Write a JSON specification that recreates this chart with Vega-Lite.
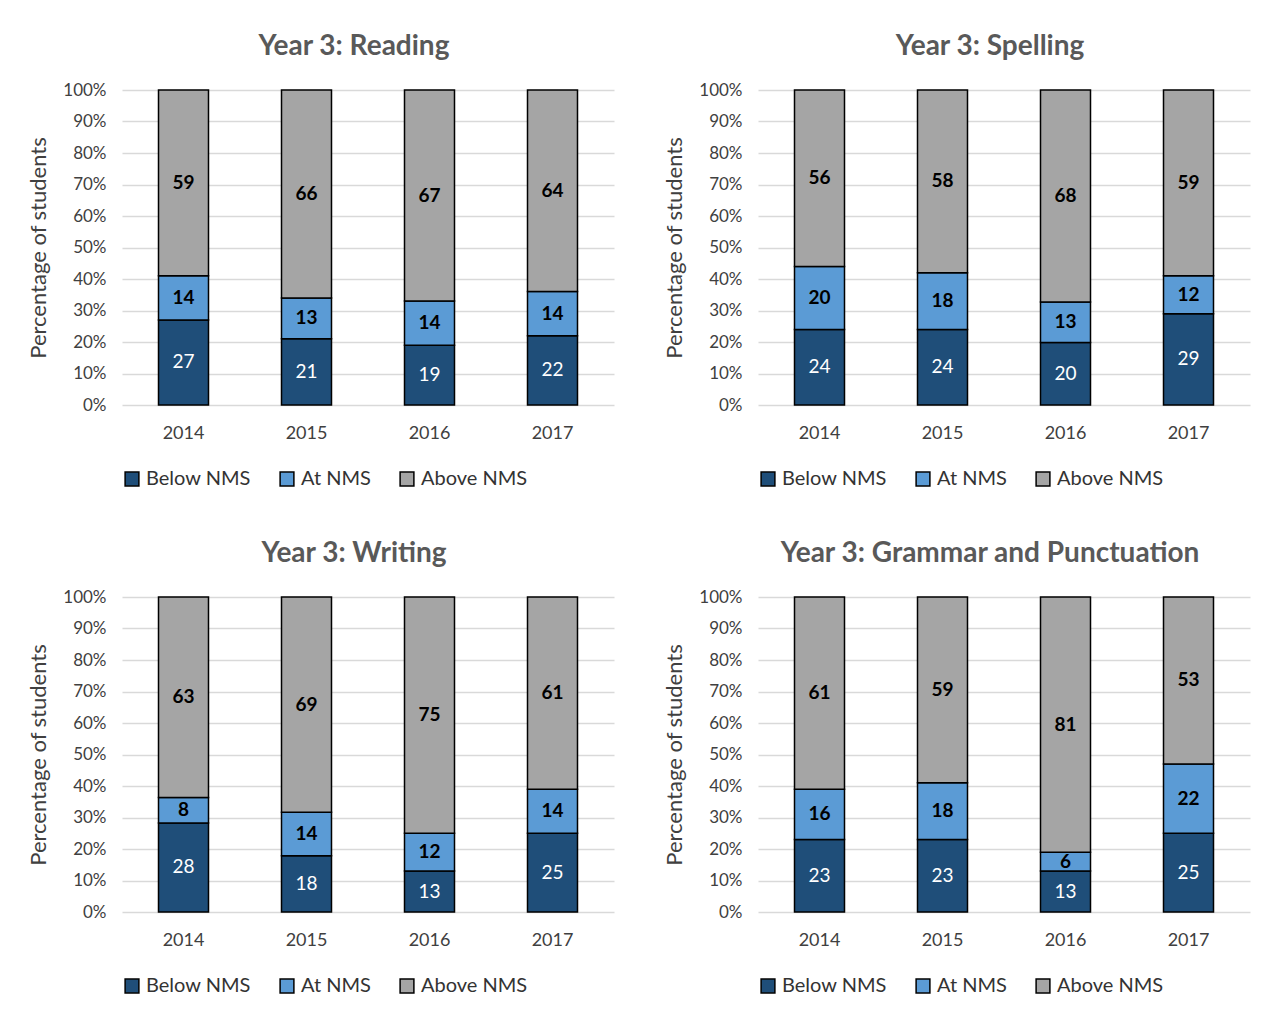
{
  "$schema": "https://vega.github.io/schema/vega-lite/v6.json",
  "background": "white",
  "padding": {"left": 27, "top": 33, "right": 10, "bottom": 5},
  "datasets": {
    "naplan": [
      {"panel": "Reading", "year": "2014", "level": "Below NMS", "value": 27},
      {"panel": "Reading", "year": "2014", "level": "At NMS", "value": 14},
      {"panel": "Reading", "year": "2014", "level": "Above NMS", "value": 59},
      {"panel": "Reading", "year": "2015", "level": "Below NMS", "value": 21},
      {"panel": "Reading", "year": "2015", "level": "At NMS", "value": 13},
      {"panel": "Reading", "year": "2015", "level": "Above NMS", "value": 66},
      {"panel": "Reading", "year": "2016", "level": "Below NMS", "value": 19},
      {"panel": "Reading", "year": "2016", "level": "At NMS", "value": 14},
      {"panel": "Reading", "year": "2016", "level": "Above NMS", "value": 67},
      {"panel": "Reading", "year": "2017", "level": "Below NMS", "value": 22},
      {"panel": "Reading", "year": "2017", "level": "At NMS", "value": 14},
      {"panel": "Reading", "year": "2017", "level": "Above NMS", "value": 64},
      {"panel": "Spelling", "year": "2014", "level": "Below NMS", "value": 24},
      {"panel": "Spelling", "year": "2014", "level": "At NMS", "value": 20},
      {"panel": "Spelling", "year": "2014", "level": "Above NMS", "value": 56},
      {"panel": "Spelling", "year": "2015", "level": "Below NMS", "value": 24},
      {"panel": "Spelling", "year": "2015", "level": "At NMS", "value": 18},
      {"panel": "Spelling", "year": "2015", "level": "Above NMS", "value": 58},
      {"panel": "Spelling", "year": "2016", "level": "Below NMS", "value": 20},
      {"panel": "Spelling", "year": "2016", "level": "At NMS", "value": 13},
      {"panel": "Spelling", "year": "2016", "level": "Above NMS", "value": 68},
      {"panel": "Spelling", "year": "2017", "level": "Below NMS", "value": 29},
      {"panel": "Spelling", "year": "2017", "level": "At NMS", "value": 12},
      {"panel": "Spelling", "year": "2017", "level": "Above NMS", "value": 59},
      {"panel": "Writing", "year": "2014", "level": "Below NMS", "value": 28},
      {"panel": "Writing", "year": "2014", "level": "At NMS", "value": 8},
      {"panel": "Writing", "year": "2014", "level": "Above NMS", "value": 63},
      {"panel": "Writing", "year": "2015", "level": "Below NMS", "value": 18},
      {"panel": "Writing", "year": "2015", "level": "At NMS", "value": 14},
      {"panel": "Writing", "year": "2015", "level": "Above NMS", "value": 69},
      {"panel": "Writing", "year": "2016", "level": "Below NMS", "value": 13},
      {"panel": "Writing", "year": "2016", "level": "At NMS", "value": 12},
      {"panel": "Writing", "year": "2016", "level": "Above NMS", "value": 75},
      {"panel": "Writing", "year": "2017", "level": "Below NMS", "value": 25},
      {"panel": "Writing", "year": "2017", "level": "At NMS", "value": 14},
      {"panel": "Writing", "year": "2017", "level": "Above NMS", "value": 61},
      {"panel": "Grammar", "year": "2014", "level": "Below NMS", "value": 23},
      {"panel": "Grammar", "year": "2014", "level": "At NMS", "value": 16},
      {"panel": "Grammar", "year": "2014", "level": "Above NMS", "value": 61},
      {"panel": "Grammar", "year": "2015", "level": "Below NMS", "value": 23},
      {"panel": "Grammar", "year": "2015", "level": "At NMS", "value": 18},
      {"panel": "Grammar", "year": "2015", "level": "Above NMS", "value": 59},
      {"panel": "Grammar", "year": "2016", "level": "Below NMS", "value": 13},
      {"panel": "Grammar", "year": "2016", "level": "At NMS", "value": 6},
      {"panel": "Grammar", "year": "2016", "level": "Above NMS", "value": 81},
      {"panel": "Grammar", "year": "2017", "level": "Below NMS", "value": 25},
      {"panel": "Grammar", "year": "2017", "level": "At NMS", "value": 22},
      {"panel": "Grammar", "year": "2017", "level": "Above NMS", "value": 53}
    ]
  },
  "data": {"name": "naplan"},
  "columns": 2,
  "spacing": {"row": 51, "column": 49},
  "resolve": {"legend": {"color": "independent"}},
  "concat": [
    {
      "title": "Year 3: Reading",
      "width": 492, "height": 315,
      "transform": [{"filter": "datum.panel === 'Reading'"}],
      "encoding": {
        "x": {"field": "year", "type": "ordinal", "title": null, "scale": {"paddingInner": 0, "paddingOuter": 0}},
        "y": {"field": "value", "type": "quantitative", "stack": "normalize", "title": "Percentage of students", "axis": {"format": ".0%", "values": [0,0.1,0.2,0.3,0.4,0.5,0.6,0.7,0.8,0.9,1]}},
        "order": {"field": "level", "sort": "descending"}
      },
      "layer": [
        {"mark": {"type": "bar", "size": 50, "stroke": "black", "strokeWidth": 1.5},
         "encoding": {"color": {"field": "level", "type": "nominal", "title": null, "scale": {"domain": ["Below NMS", "At NMS", "Above NMS"], "range": ["#1f4e79", "#5b9bd5", "#a5a5a5"]}}}},
        {"mark": {"type": "text", "fontSize": 19, "baseline": "middle"},
         "encoding": {"y": {"field": "value", "type": "quantitative", "stack": "normalize", "bandPosition": 0.5, "axis": {"format": ".0%", "values": [0,0.1,0.2,0.3,0.4,0.5,0.6,0.7,0.8,0.9,1]}, "title": "Percentage of students"}, "text": {"field": "value"},
           "color": {"condition": {"test": "datum.level === 'Below NMS'", "value": "white"}, "value": "transparent"}}},
        {"mark": {"type": "text", "fontSize": 19, "fontWeight": "bold", "baseline": "middle"},
         "encoding": {"y": {"field": "value", "type": "quantitative", "stack": "normalize", "bandPosition": 0.5, "axis": {"format": ".0%", "values": [0,0.1,0.2,0.3,0.4,0.5,0.6,0.7,0.8,0.9,1]}, "title": "Percentage of students"}, "text": {"field": "value"},
           "color": {"condition": {"test": "datum.level !== 'Below NMS'", "value": "black"}, "value": "transparent"}}}
      ]
    },
    {
      "title": "Year 3: Spelling",
      "width": 492, "height": 315,
      "transform": [{"filter": "datum.panel === 'Spelling'"}],
      "encoding": {
        "x": {"field": "year", "type": "ordinal", "title": null, "scale": {"paddingInner": 0, "paddingOuter": 0}},
        "y": {"field": "value", "type": "quantitative", "stack": "normalize", "title": "Percentage of students", "axis": {"format": ".0%", "values": [0,0.1,0.2,0.3,0.4,0.5,0.6,0.7,0.8,0.9,1]}},
        "order": {"field": "level", "sort": "descending"}
      },
      "layer": [
        {"mark": {"type": "bar", "size": 50, "stroke": "black", "strokeWidth": 1.5},
         "encoding": {"color": {"field": "level", "type": "nominal", "title": null, "scale": {"domain": ["Below NMS", "At NMS", "Above NMS"], "range": ["#1f4e79", "#5b9bd5", "#a5a5a5"]}}}},
        {"mark": {"type": "text", "fontSize": 19, "baseline": "middle"},
         "encoding": {"y": {"field": "value", "type": "quantitative", "stack": "normalize", "bandPosition": 0.5, "axis": {"format": ".0%", "values": [0,0.1,0.2,0.3,0.4,0.5,0.6,0.7,0.8,0.9,1]}, "title": "Percentage of students"}, "text": {"field": "value"},
           "color": {"condition": {"test": "datum.level === 'Below NMS'", "value": "white"}, "value": "transparent"}}},
        {"mark": {"type": "text", "fontSize": 19, "fontWeight": "bold", "baseline": "middle"},
         "encoding": {"y": {"field": "value", "type": "quantitative", "stack": "normalize", "bandPosition": 0.5, "axis": {"format": ".0%", "values": [0,0.1,0.2,0.3,0.4,0.5,0.6,0.7,0.8,0.9,1]}, "title": "Percentage of students"}, "text": {"field": "value"},
           "color": {"condition": {"test": "datum.level !== 'Below NMS'", "value": "black"}, "value": "transparent"}}}
      ]
    },
    {
      "title": "Year 3: Writing",
      "width": 492, "height": 315,
      "transform": [{"filter": "datum.panel === 'Writing'"}],
      "encoding": {
        "x": {"field": "year", "type": "ordinal", "title": null, "scale": {"paddingInner": 0, "paddingOuter": 0}},
        "y": {"field": "value", "type": "quantitative", "stack": "normalize", "title": "Percentage of students", "axis": {"format": ".0%", "values": [0,0.1,0.2,0.3,0.4,0.5,0.6,0.7,0.8,0.9,1]}},
        "order": {"field": "level", "sort": "descending"}
      },
      "layer": [
        {"mark": {"type": "bar", "size": 50, "stroke": "black", "strokeWidth": 1.5},
         "encoding": {"color": {"field": "level", "type": "nominal", "title": null, "scale": {"domain": ["Below NMS", "At NMS", "Above NMS"], "range": ["#1f4e79", "#5b9bd5", "#a5a5a5"]}}}},
        {"mark": {"type": "text", "fontSize": 19, "baseline": "middle"},
         "encoding": {"y": {"field": "value", "type": "quantitative", "stack": "normalize", "bandPosition": 0.5, "axis": {"format": ".0%", "values": [0,0.1,0.2,0.3,0.4,0.5,0.6,0.7,0.8,0.9,1]}, "title": "Percentage of students"}, "text": {"field": "value"},
           "color": {"condition": {"test": "datum.level === 'Below NMS'", "value": "white"}, "value": "transparent"}}},
        {"mark": {"type": "text", "fontSize": 19, "fontWeight": "bold", "baseline": "middle"},
         "encoding": {"y": {"field": "value", "type": "quantitative", "stack": "normalize", "bandPosition": 0.5, "axis": {"format": ".0%", "values": [0,0.1,0.2,0.3,0.4,0.5,0.6,0.7,0.8,0.9,1]}, "title": "Percentage of students"}, "text": {"field": "value"},
           "color": {"condition": {"test": "datum.level !== 'Below NMS'", "value": "black"}, "value": "transparent"}}}
      ]
    },
    {
      "title": "Year 3: Grammar and Punctuation",
      "width": 492, "height": 315,
      "transform": [{"filter": "datum.panel === 'Grammar'"}],
      "encoding": {
        "x": {"field": "year", "type": "ordinal", "title": null, "scale": {"paddingInner": 0, "paddingOuter": 0}},
        "y": {"field": "value", "type": "quantitative", "stack": "normalize", "title": "Percentage of students", "axis": {"format": ".0%", "values": [0,0.1,0.2,0.3,0.4,0.5,0.6,0.7,0.8,0.9,1]}},
        "order": {"field": "level", "sort": "descending"}
      },
      "layer": [
        {"mark": {"type": "bar", "size": 50, "stroke": "black", "strokeWidth": 1.5},
         "encoding": {"color": {"field": "level", "type": "nominal", "title": null, "scale": {"domain": ["Below NMS", "At NMS", "Above NMS"], "range": ["#1f4e79", "#5b9bd5", "#a5a5a5"]}}}},
        {"mark": {"type": "text", "fontSize": 19, "baseline": "middle"},
         "encoding": {"y": {"field": "value", "type": "quantitative", "stack": "normalize", "bandPosition": 0.5, "axis": {"format": ".0%", "values": [0,0.1,0.2,0.3,0.4,0.5,0.6,0.7,0.8,0.9,1]}, "title": "Percentage of students"}, "text": {"field": "value"},
           "color": {"condition": {"test": "datum.level === 'Below NMS'", "value": "white"}, "value": "transparent"}}},
        {"mark": {"type": "text", "fontSize": 19, "fontWeight": "bold", "baseline": "middle"},
         "encoding": {"y": {"field": "value", "type": "quantitative", "stack": "normalize", "bandPosition": 0.5, "axis": {"format": ".0%", "values": [0,0.1,0.2,0.3,0.4,0.5,0.6,0.7,0.8,0.9,1]}, "title": "Percentage of students"}, "text": {"field": "value"},
           "color": {"condition": {"test": "datum.level !== 'Below NMS'", "value": "black"}, "value": "transparent"}}}
      ]
    }
  ],
  "config": {
    "font": "Lato",
    "view": {"stroke": null},
    "title": {"fontSize": 28, "fontWeight": "bold", "color": "#595959", "font": "Lato", "offset": 20, "dx": -14},
    "axis": {"labelFont": "Lato", "titleFont": "Lato", "labelColor": "#404040", "titleColor": "#404040", "ticks": false, "domain": false},
    "axisY": {"labelFontSize": 17, "titleFontSize": 22, "titleFontWeight": "normal", "labelPadding": 16, "titlePadding": 12, "grid": true, "gridColor": "#d9d9d9", "gridWidth": 1.5},
    "axisX": {"labelFontSize": 18, "labelAngle": 0, "labelPadding": 19, "grid": false},
    "legend": {"orient": "bottom", "direction": "horizontal", "labelFontSize": 20, "labelFont": "Lato", "labelColor": "#333333", "symbolType": "square", "symbolSize": 190, "symbolStrokeColor": "black", "symbolStrokeWidth": 1.5, "symbolOpacity": 1, "columnPadding": 26, "labelOffset": 4, "offset": 27}
  }
}
